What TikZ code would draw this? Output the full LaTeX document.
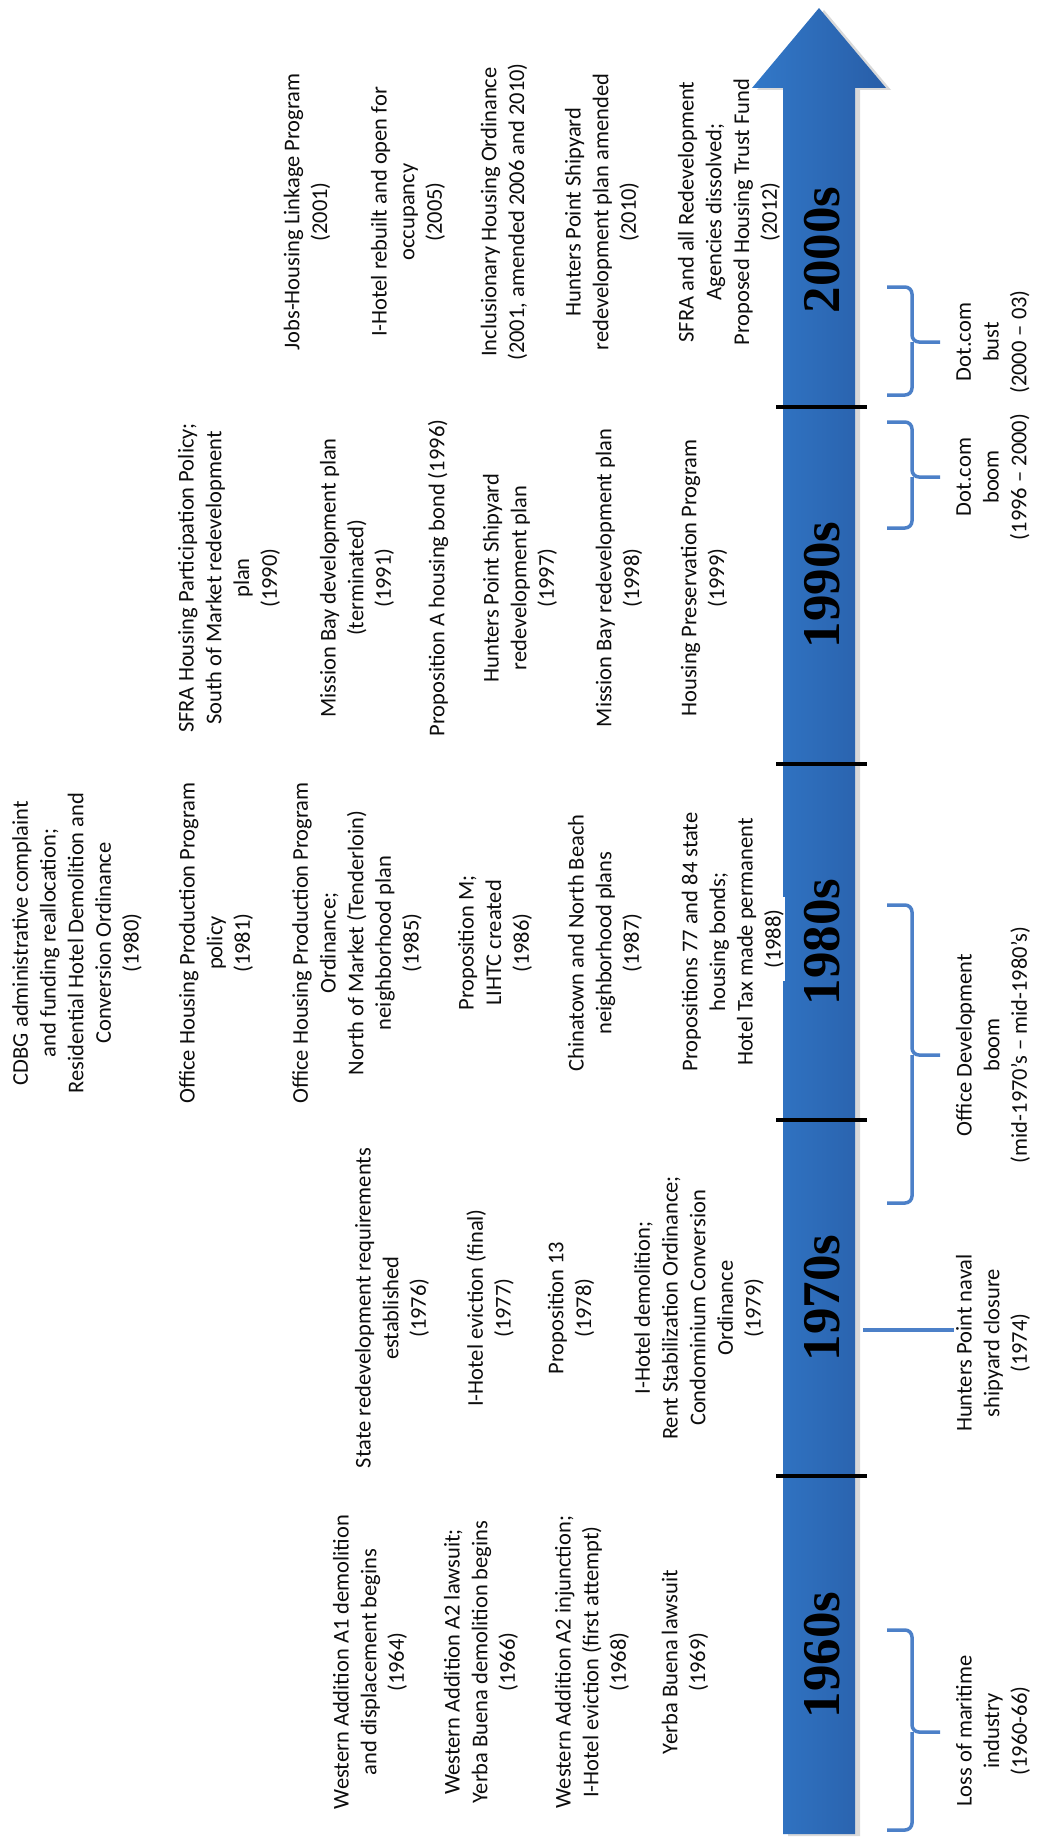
\documentclass[tikz,border=0pt]{standalone}
\usepackage{fontspec}
\setmainfont{Carlito}
\newfontfamily\decadefont{Liberation Serif}
\usetikzlibrary{shadows}
\definecolor{arrowblue}{RGB}{50,120,200}
\definecolor{arrowdark}{RGB}{40,94,168}
\definecolor{bracketblue}{RGB}{76,128,200}

\begin{document}
\begin{tikzpicture}[
  x=1pt, y=-1pt,
  event/.style={rotate=90, align=center, inner sep=2pt, text=black!95,
    font=\fontsize{22.5}{27.7}\selectfont},
  decade/.style={rotate=90, text=black, font=\decadefont\bfseries\fontsize{53}{53}\selectfont},
  tickmark/.style={line width=4.5pt, black},
  span/.style={line width=3.5pt, bracketblue, rounded corners=7pt}
]
  \useasboundingbox (0,0) rectangle (1037,1838);

  % Timeline arrow
  \path[left color=arrowblue, right color=arrowdark,
    drop shadow={shadow xshift=5pt, shadow yshift=-2pt, opacity=.3}]
    (783,1834) -- (783,88) -- (752,88) -- (819,8) -- (886,88)
    -- (855,88) -- (855,1834) -- cycle;

  % Decade ticks
  \foreach \y in {407,764,1120,1476}
    \draw[tickmark] (776,\y) -- (867,\y);

  % Decades
  \node[decade] (d60) at (822,1655) {1960s};
  \node[decade] (d70) at (822,1298) {1970s};
  \node[decade] (d80) at (822,942) {1980s};
  \node[decade] (d90) at (822,585) {1990s};
  \node[decade] (d00) at (822,250) {2000s};

  % 1960s events
  \node[event] (e64) at (370,1662) {Western Addition A1 demolition\\and displacement begins\\(1964)};
  \node[event] (e66) at (481,1662) {Western Addition A2 lawsuit;\\Yerba Buena demolition begins\\(1966)};
  \node[event] (e68) at (592,1662) {Western Addition A2 injunction;\\I-Hotel eviction (first attempt)\\(1968)};
  \node[event] (e69) at (685,1662) {Yerba Buena lawsuit\\(1969)};

  % 1970s events
  \node[event] (e76) at (392,1308) {State redevelopment requirements\\established\\(1976)};
  \node[event] (e77) at (490,1308) {I-Hotel eviction (final)\\(1977)};
  \node[event] (e78) at (571,1308) {Proposition 13\\(1978)};
  \node[event] (e79) at (699,1308) {I-Hotel demolition;\\Rent Stabilization Ordinance;\\Condominium Conversion\\Ordinance\\(1979)};

  % 1980s events
  \node[event] (e80) at (77,943) {CDBG administrative complaint\\and funding reallocation;\\Residential Hotel Demolition and\\Conversion Ordinance\\(1980)};
  \node[event] (e81) at (216,943) {Office Housing Production Program\\policy\\(1981)};
  \node[event] (e85) at (357,943) {Office Housing Production Program\\Ordinance;\\North of Market (Tenderloin)\\neighborhood plan\\(1985)};
  \node[event] (e86) at (495,943) {Proposition M;\\LIHTC created\\(1986)};
  \node[event] (e87) at (605,943) {Chinatown and North Beach\\neighborhood plans\\(1987)};
  \node[event] (e88) at (719,942) {Propositions 77 and 84 state\\housing bonds;\\Hotel Tax made permanent};
  \node[event, fill=white, inner xsep=12pt, inner ysep=1pt] (y88) at (774,939) {(1988)};

  % 1990s events
  \node[event] (e90) at (229,578) {SFRA Housing Participation Policy;\\South of Market redevelopment\\plan\\(1990)};
  \node[event] (e91) at (357,578) {Mission Bay development plan\\(terminated)\\(1991)};
  \node[event] (e96) at (438,578) {Proposition A housing bond (1996)};
  \node[event] (e97) at (520,578) {Hunters Point Shipyard\\redevelopment plan\\(1997)};
  \node[event] (e98) at (619,578) {Mission Bay redevelopment plan\\(1998)};
  \node[event] (e99) at (704,578) {Housing Preservation Program\\(1999)};

  % 2000s events
  \node[event] (e01) at (307,212) {Jobs-Housing Linkage Program\\(2001)};
  \node[event] (e05) at (408,212) {I-Hotel rebuilt and open for\\occupancy\\(2005)};
  \node[event] (e06) at (504,212) {Inclusionary Housing Ordinance\\(2001, amended 2006 and 2010)};
  \node[event] (e10) at (602,212) {Hunters Point Shipyard\\redevelopment plan amended\\(2010)};
  \node[event] (e12) at (729,212) {SFRA and all Redevelopment\\Agencies dissolved;\\Proposed Housing Trust Fund\\(2012)};

  % Economic periods
  \node[event] (maritime) at (993,1731) {Loss of maritime\\industry\\(1960-66)};
  \node[event] (naval) at (993,1343) {Hunters Point naval\\shipyard closure\\(1974)};
  \node[event] (office) at (993,1045) {Office Development\\boom\\(mid-1970’s – mid-1980’s)};
  \node[event] (dotboom) at (993,477) {Dot.com\\boom\\(1996 – 2000)};
  \node[event] (dotbust) at (993,342) {Dot.com\\bust\\(2000 – 03)};

  \coordinate (h74) at (863,1330);
  \draw[span] (h74) -- (h74 -| naval.north);

  \foreach \a/\b/\c in {1630/1830/1732, 905/1203/1055, 422/528/477, 287/395/342}
    \draw[span] (887,\a) -- (912,\a) -- (912,\c) -- (940,\c)
      (912,\c) -- (912,\b) -- (887,\b);
\end{tikzpicture}
\end{document}
